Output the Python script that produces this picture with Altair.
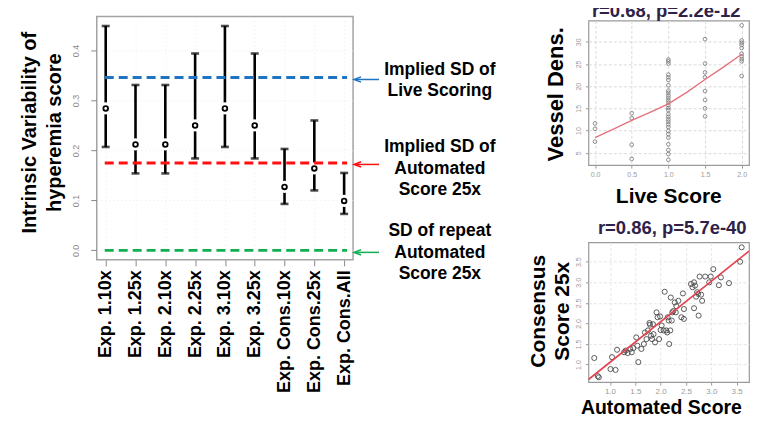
import altair as alt
import pandas as pd

FONT = "Liberation Sans"

# ---------------- left panel data ----------------
conditions = ["Exp. 1.10x", "Exp. 1.25x", "Exp. 2.10x", "Exp. 2.25x", "Exp. 3.10x",
              "Exp. 3.25x", "Exp. Cons.10x", "Exp. Cons.25x", "Exp. Cons.All"]
means = [0.284, 0.212, 0.212, 0.250, 0.284, 0.250, 0.127, 0.164, 0.099]
lows = [0.207, 0.154, 0.154, 0.184, 0.207, 0.184, 0.093, 0.120, 0.073]
highs = [0.449, 0.331, 0.331, 0.394, 0.449, 0.394, 0.203, 0.260, 0.155]

ref_names = ["Live Scoring", "Automated 25x", "Repeat Automated 25x"]
ref_values = [0.346, 0.175, 0.0]
arrow_values = [0.342, 0.172, -0.004]
ref_colors = ["#1f73c0", "#ff1010", "#10b050"]
ref_texts = ["Implied SD of\nLive Scoring",
             "Implied SD of\nAutomated\nScore 25x",
             "SD of repeat\nAutomated\nScore 25x"]

# ---------------- top-right scatter data ----------------
live_score = [0.0, 0.0, 0.0,
              0.5, 0.5, 0.5, 0.5,
              1.0, 1.0, 1.0, 1.0, 1.0, 1.0, 1.0, 1.0, 1.0, 1.0, 1.0, 1.0, 1.0, 1.0, 1.0,
              1.0, 1.0, 1.0, 1.0, 1.0, 1.0, 1.0, 1.0, 1.0, 1.0, 1.0, 1.0, 1.0, 1.0,
              1.5, 1.5, 1.5, 1.5, 1.5, 1.5, 1.5, 1.5,
              2.0, 2.0, 2.0, 2.0, 2.0, 2.0, 2.0, 2.0, 2.0, 2.0]
vessel_dens = [11.6, 10.4, 7.5,
               13.9, 12.8, 6.8, 3.6,
               26.0, 25.6, 25.1, 22.6, 22.0, 21.4, 20.2, 19.0, 18.5, 17.9, 17.4, 16.8, 16.3, 15.7, 15.1,
               14.6, 13.7, 13.1, 12.5, 12.0, 11.4, 10.8, 9.9, 9.2, 8.4, 6.9, 5.6, 4.7, 3.4,
               30.6, 25.1, 23.1, 22.0, 18.9, 16.9, 15.0, 13.2,
               33.7, 30.3, 29.8, 29.3, 28.6, 27.3, 26.7, 26.1, 25.6, 22.3]
fit1_x = [0.0, 0.25, 0.5, 0.75, 1.0, 1.25, 1.5, 1.75, 2.0]
fit1_y = [8.4, 10.3, 12.3, 14.1, 16.0, 18.6, 21.5, 24.3, 27.2]
title1 = "r=0.68, p=2.2e-12"

# ---------------- bottom-right scatter data ----------------
auto_score = [0.69, 0.76, 0.78, 1.01, 1.04, 1.11, 1.14, 1.28, 1.31, 1.40, 1.43, 1.54, 1.56, 1.52, 1.67,
              1.69, 1.75, 1.78, 1.79, 1.81, 1.83, 1.86, 1.89, 1.92, 1.94, 1.99, 2.00, 2.02, 2.08, 2.11,
              2.13, 2.14, 2.17, 2.19, 2.20, 2.23, 2.28, 2.30, 2.31, 2.35, 2.46, 2.44, 2.46, 2.60, 2.63,
              2.66, 2.66, 2.70, 2.72, 2.74, 2.75, 2.77, 2.82, 2.88, 2.96, 2.99, 3.04, 3.15, 3.19, 3.35,
              3.57, 3.60, 2.16, 1.97, 1.72, 1.62, 2.22, 2.06, 2.41, 2.68, 1.46, 1.35, 1.85, 2.25, 2.80]
cons_score = [1.16, 0.72, 0.69, 0.89, 1.18, 0.87, 1.36, 1.30, 1.34, 1.38, 1.30, 1.46, 1.06, 1.66, 1.50,
              1.78, 1.83, 2.01, 1.97, 1.70, 1.62, 1.74, 1.54, 2.27, 2.15, 2.17, 1.84, 1.95, 2.77, 1.83,
              1.78, 2.15, 1.50, 1.83, 2.63, 2.27, 2.51, 2.27, 2.42, 2.55, 2.11, 2.73, 2.35, 2.96, 2.88,
              3.00, 2.37, 2.65, 2.76, 2.72, 2.19, 3.14, 2.55, 3.14, 3.00, 3.14, 3.32, 2.93, 3.12, 2.98,
              3.50, 3.85, 2.07, 1.62, 1.62, 1.38, 2.07, 1.83, 2.15, 2.92, 1.40, 1.28, 1.98, 2.30, 2.70]
fit2_x = [0.575, 3.745]
fit2_y = [0.636, 3.759]
title2 = "r=0.86, p=5.7e-40"

TITLE_COLOR = "#2e2248"
GRID = dict(grid=True, gridColor="#ebebeb", gridDash=[1, 3], gridWidth=1)


def invisible_anchor(xpix, ypix):
    # zero-size, fully transparent rule used only to pin the chart's outer bounds
    return alt.Chart(pd.DataFrame({"a": [0]})).mark_rule(opacity=0, strokeWidth=0).encode(
        x=alt.value(xpix), x2=alt.value(xpix), y=alt.value(ypix), y2=alt.value(ypix + 1))


# =============== LEFT PANEL ===============
df_err = pd.DataFrame({"cond": conditions, "mean": means, "lo": lows, "hi": highs})
df_ref = pd.DataFrame({"name": ref_names, "v": ref_values, "a": arrow_values})

x_enc = alt.X("cond:N", sort=conditions,
              scale=alt.Scale(type="point", padding=0.3),
              axis=alt.Axis(title=None, labelAngle=270, labelAlign="right", labelBaseline="middle",
                            labelFont=FONT, labelFontSize=18, labelFontWeight="bold",
                            labelColor="black", labelPadding=4, tickSize=6, tickColor="#8a8a8a",
                            domain=False, labelOverlap=False, labelFlush=False, **GRID))
y_scale = alt.Scale(domain=[-0.019, 0.468], nice=False, zero=False)
y_axis = alt.Axis(values=[0, 0.1, 0.2, 0.3, 0.4], format=".1f", labelAngle=270,
                  labelAlign="center", labelBaseline="bottom", labelFontSize=9,
                  labelColor="#8c8c8c", labelPadding=10, tickSize=6, tickColor="#8a8a8a",
                  domain=False, labelOverlap=False, labelFlush=False,
                  title=["Intrinsic Variability of", "hyperemia score"],
                  titleAngle=270, titleX=-61.5, titleY=116, titleAlign="center",
                  titleBaseline="alphabetic", titleFont=FONT, titleFontSize=20,
                  titleFontWeight="bold", titleLineHeight=25, titleColor="black", **GRID)


def Y(field):
    return alt.Y(field, scale=y_scale, axis=y_axis)


ref_color = alt.Color("name:N", scale=alt.Scale(domain=ref_names, range=ref_colors), legend=None)

bars = alt.Chart(df_err).mark_rule(color="black", strokeWidth=2.6).encode(
    x=x_enc, y=Y("lo:Q"), y2="hi:Q")
cap_lo = alt.Chart(df_err).mark_tick(color="black", size=8, thickness=2.6).encode(x=x_enc, y=Y("lo:Q"))
cap_hi = alt.Chart(df_err).mark_tick(color="black", size=8, thickness=2.6).encode(x=x_enc, y=Y("hi:Q"))
gaps = alt.Chart(df_err).mark_circle(color="white", opacity=1, size=150).encode(x=x_enc, y=Y("mean:Q"))
dashes = alt.Chart(df_ref).mark_rule(strokeDash=[9, 5], strokeWidth=3).encode(
    y=Y("v:Q"), color=ref_color, x=alt.value(8), x2=alt.value(251))
pts = alt.Chart(df_err).mark_point(shape="circle", filled=True, color="white", stroke="black",
                                   strokeWidth=1.8, size=22, opacity=1).encode(x=x_enc, y=Y("mean:Q"))
arrow_shaft = alt.Chart(df_ref).mark_rule(strokeWidth=1.5).encode(
    y=Y("a:Q"), color=ref_color, x=alt.value(259), x2=alt.value(283))
arrow_head = alt.Chart(df_ref).mark_point(shape="M 1 -0.75 L -1 0 L 1 0.75", size=49, filled=False,
                                          strokeWidth=1.5, opacity=1).encode(
    y=Y("a:Q"), color=ref_color, x=alt.value(261.5))


def note(txt, ypix):
    return alt.Chart(pd.DataFrame({"t": [txt]})).mark_text(
        align="center", baseline="alphabetic", font=FONT, fontSize=17.5, fontWeight="bold",
        lineBreak="\n", lineHeight=21.7, color="black").encode(
        text="t:N", x=alt.value(344), y=alt.value(ypix))


notes = [note(ref_texts[0], 58.3), note(ref_texts[1], 135.8), note(ref_texts[2], 220.2)]

left = alt.layer(bars, cap_lo, cap_hi, gaps, dashes, pts, arrow_shaft, arrow_head, *notes,
                 invisible_anchor(-88, -25)).properties(
    width=257, height=244,
    view=alt.ViewBackground(stroke="#a3a3a3", strokeWidth=1.5))

# =============== TOP-RIGHT SCATTER ===============
df_s1 = pd.DataFrame({"live": live_score, "dens": vessel_dens})
df_f1 = pd.DataFrame({"live": fit1_x, "dens": fit1_y})
x1s = alt.Scale(domain=[-0.09, 2.10], nice=False, zero=False)
y1s = alt.Scale(domain=[2.2, 34.8], nice=False, zero=False)
x1a = alt.Axis(values=[0, 0.5, 1, 1.5, 2], format=".1f", labelFontSize=7, labelColor="#9a9a9a",
               tickSize=3, tickColor="#9a9a9a", labelPadding=2, domain=False,
               labelOverlap=False, labelFlush=False,
               title="Live Score", titleFont=FONT, titleFontSize=21, titleFontWeight="bold",
               titleColor="black", titleX=27, titleY=37.7, titleAlign="left",
               titleBaseline="alphabetic", titleAngle=0,
               grid=True, gridColor="#dadada", gridDash=[3, 2])
y1a = alt.Axis(values=[5, 10, 15, 20, 25, 30], format="d", labelAngle=270, labelAlign="center",
               labelBaseline="bottom", labelFontSize=7, labelColor="#9a9a9a", labelPadding=4,
               tickSize=3, tickColor="#9a9a9a", domain=False, labelOverlap=False, labelFlush=False,
               title="Vessel Dens.", titleFont=FONT, titleFontSize=22, titleFontWeight="bold",
               titleColor="black", titleAngle=270, titleX=-26, titleY=73.5, titleAlign="center",
               titleBaseline="alphabetic",
               grid=True, gridColor="#dadada", gridDash=[3, 2])
s1_pts = alt.Chart(df_s1).mark_point(shape="circle", size=14, filled=False, color="#777777",
                                     strokeWidth=0.8, opacity=1).encode(
    x=alt.X("live:Q", scale=x1s, axis=x1a), y=alt.Y("dens:Q", scale=y1s, axis=y1a))
s1_fit = alt.Chart(df_f1).mark_line(color="#e4707a", strokeWidth=1.3).encode(
    x=alt.X("live:Q", scale=x1s, axis=x1a), y=alt.Y("dens:Q", scale=y1s, axis=y1a))
s1_title = alt.Chart(pd.DataFrame({"t": [title1]})).mark_text(
    align="center", baseline="alphabetic", font=FONT, fontSize=18.5, fontWeight="bold",
    color=TITLE_COLOR).encode(text="t:N", x=alt.value(78), y=alt.value(-4))
top = alt.layer(s1_pts, s1_fit, s1_title).properties(
    width=161, height=145, view=alt.ViewBackground(stroke="#9a9a9a", strokeWidth=1.2))

# =============== BOTTOM-RIGHT SCATTER ===============
df_s2 = pd.DataFrame({"auto": auto_score, "cons": cons_score})
df_f2 = pd.DataFrame({"auto": fit2_x, "cons": fit2_y})
x2s = alt.Scale(domain=[0.575, 3.745], nice=False, zero=False)
y2s = alt.Scale(domain=[0.575, 3.97], nice=False, zero=False)
x2a = alt.Axis(values=[1, 1.5, 2, 2.5, 3, 3.5], format=".1f", labelFontSize=8, labelColor="#9a9a9a",
               tickSize=3, tickColor="#9a9a9a", labelPadding=2, domain=False,
               labelOverlap=False, labelFlush=False,
               title="Automated Score", titleFont=FONT, titleFontSize=19.5, titleFontWeight="bold",
               titleColor="black", titleX=-8, titleY=31.5, titleAlign="left",
               titleBaseline="alphabetic", titleAngle=0,
               grid=True, gridColor="#e6e6e6", gridDash=[3, 2])
y2a = alt.Axis(values=[1, 1.5, 2, 2.5, 3, 3.5], format=".1f", labelAngle=270, labelAlign="center",
               labelBaseline="bottom", labelFontSize=7, labelColor="#9a9a9a", labelPadding=4,
               tickSize=3, tickColor="#9a9a9a", domain=False, labelOverlap=False, labelFlush=False,
               title=["Consensus", "Score 25x"], titleFont=FONT, titleFontSize=21,
               titleFontWeight="bold", titleColor="black", titleAngle=270, titleX=-44,
               titleY=68.5, titleAlign="center", titleBaseline="alphabetic", titleLineHeight=24,
               grid=True, gridColor="#e6e6e6", gridDash=[3, 2])
s2_pts = alt.Chart(df_s2).mark_point(shape="circle", size=26, filled=False, color="#4a4a4a",
                                     strokeWidth=0.9, opacity=1).encode(
    x=alt.X("auto:Q", scale=x2s, axis=x2a), y=alt.Y("cons:Q", scale=y2s, axis=y2a))
s2_fit = alt.Chart(df_f2).mark_line(color="#e3424e", strokeWidth=1.6, clip=True).encode(
    x=alt.X("auto:Q", scale=x2s, axis=x2a), y=alt.Y("cons:Q", scale=y2s, axis=y2a))
s2_title = alt.Chart(pd.DataFrame({"t": [title2]})).mark_text(
    align="center", baseline="alphabetic", font=FONT, fontSize=18.5, fontWeight="bold",
    color=TITLE_COLOR).encode(text="t:N", x=alt.value(84), y=alt.value(-8.2))
bottom = alt.layer(s2_pts, s2_fit, s2_title, invisible_anchor(181, 188.5)).properties(
    width=161, height=140, view=alt.ViewBackground(stroke="#9a9a9a", strokeWidth=1.2))

# =============== LAYOUT ===============
spacer = alt.Chart(pd.DataFrame({"a": [0]})).mark_point(opacity=0).encode(
    x=alt.value(0), y=alt.value(0)).properties(
    width=1, height=1, view=alt.ViewBackground(stroke="transparent"))

inner = alt.vconcat(top, bottom, spacing=77.5, bounds="flush")
right_col = alt.vconcat(spacer, inner, spacing=3, bounds="flush")

chart = alt.hconcat(left, right_col, spacing=236, bounds="flush").properties(
    padding={"left": 0, "top": -18, "right": -19, "bottom": -16}
).configure(font=FONT).configure_view(stroke="#a3a3a3")

chart.save("out.html", embed_options={"renderer": "svg", "actions": False})
